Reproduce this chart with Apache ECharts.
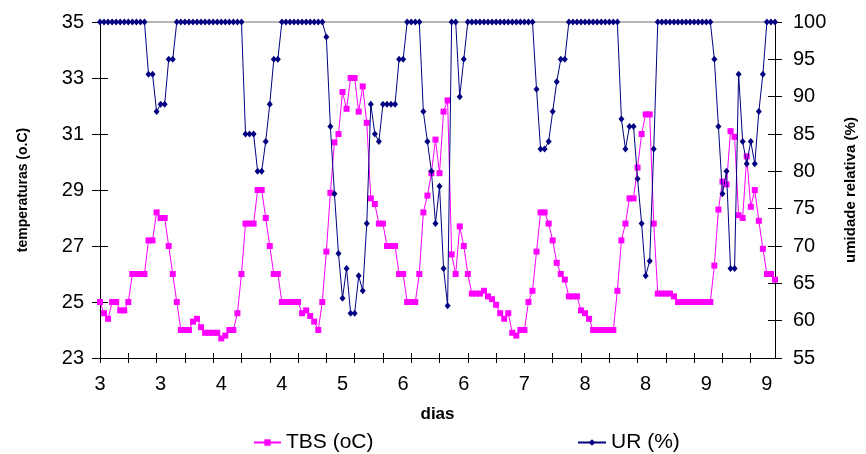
<!DOCTYPE html>
<html>
<head>
<meta charset="utf-8">
<script src="https://cdn.jsdelivr.net/npm/echarts@6/dist/echarts.min.js"></script>
<style>
  html, body { margin: 0; padding: 0; background: #fff; }
  #chart { width: 866px; height: 454px; }
</style>
</head>
<body>
<div id="chart"></div>
<script>
// Hourly readings, day 3 00h .. day 9 23h
const days = [3, 4, 5, 6, 7, 8, 9];
const hoursPerDay = 24;

// Temperatura de bulbo seco (oC)
const tbs = [
  25.0,24.6,24.4,25.0,25.0,24.7,24.7,25.0,26.0,26.0,
  26.0,26.0,27.2,27.2,28.2,28.0,28.0,27.0,26.0,25.0,
  24.0,24.0,24.0,24.3,24.4,24.1,23.9,23.9,23.9,23.9,
  23.7,23.8,24.0,24.0,24.6,26.0,27.8,27.8,27.8,29.0,
  29.0,28.0,27.0,26.0,26.0,25.0,25.0,25.0,25.0,25.0,
  24.6,24.7,24.5,24.3,24.0,25.0,26.8,28.9,30.7,31.0,
  32.5,31.9,33.0,33.0,31.8,32.7,31.4,28.7,28.5,27.8,
  27.8,27.0,27.0,27.0,26.0,26.0,25.0,25.0,25.0,26.0,
  28.2,28.8,29.6,30.8,29.6,31.8,32.2,26.7,26.0,27.7,
  27.0,26.0,25.3,25.3,25.3,25.4,25.2,25.1,24.9,24.6,
  24.4,24.6,23.9,23.8,24.0,24.0,25.0,25.4,26.8,28.2,
  28.2,27.8,27.2,26.4,26.0,25.8,25.2,25.2,25.2,24.7,
  24.6,24.4,24.0,24.0,24.0,24.0,24.0,24.0,25.4,27.2,
  27.8,28.7,28.7,29.8,31.0,31.7,31.7,27.8,25.3,25.3,
  25.3,25.3,25.2,25.0,25.0,25.0,25.0,25.0,25.0,25.0,
  25.0,25.0,26.3,28.3,29.3,29.2,31.1,30.9,28.1,28.0,
  30.2,28.4,29.0,27.9,26.9,26.0,26.0,25.8
];

// Umidade relativa (%)
const ur = [
  100,100,100,100,100,100,100,100,100,100,
  100,100,93,93,88,89,89,95,95,100,
  100,100,100,100,100,100,100,100,100,100,
  100,100,100,100,100,100,85,85,85,80,
  80,84,89,95,95,100,100,100,100,100,
  100,100,100,100,100,100,98,86,77,69,
  63,67,61,61,66,64,73,89,85,84,
  89,89,89,89,95,95,100,100,100,100,
  88,84,80,73,78,67,62,100,100,90,
  95,100,100,100,100,100,100,100,100,100,
  100,100,100,100,100,100,100,100,91,83,
  83,84,88,92,95,95,100,100,100,100,
  100,100,100,100,100,100,100,100,100,87,
  83,86,86,79,73,66,68,83,100,100,
  100,100,100,100,100,100,100,100,100,100,
  100,100,95,86,77,80,67,67,93,84,
  81,84,81,88,93,100,100,100
];

const seriesNames = ['TBS (oC)', 'UR (%)'];
const leftTitle = 'temperaturas (o.C)';
const rightTitle = 'umidade relativa (%)';
const xTitle = 'dias';

const categories = [];
days.forEach(d => { for (let h = 0; h < hoursPerDay; h++) categories.push(d + ' ' + h + 'h'); });

const FONT = 'Liberation Sans, Arial, sans-serif';
const chart = echarts.init(document.getElementById('chart'), null, { renderer: 'canvas' });

const baseX = {
  type: 'category',
  data: categories,
  boundaryGap: false,
  position: 'bottom'
};

chart.setOption({
  animation: false,
  backgroundColor: '#ffffff',
  textStyle: { fontFamily: FONT },
  grid: { left: 100, right: 82, top: 22, bottom: 96, containLabel: false },
  legend: [
    {
      data: [seriesNames[0]], left: 248, top: 427,
      itemWidth: 27, itemHeight: 8, itemGap: 0,
      textStyle: { fontSize: 21, color: '#000', fontFamily: FONT }
    },
    {
      data: [seriesNames[1]], left: 572, top: 427,
      itemWidth: 28, itemHeight: 8, itemGap: 0,
      textStyle: { fontSize: 21, color: '#000', fontFamily: FONT }
    }
  ],
  xAxis: [
    Object.assign({}, baseX, {
      name: xTitle, nameLocation: 'middle', nameGap: 48,
      nameTextStyle: { fontSize: 17, fontWeight: 'bold', color: '#000', fontFamily: FONT },
      axisLine: { lineStyle: { color: '#000', width: 1 } },
      axisTick: { show: true, interval: 6, length: 5, lineStyle: { color: '#000' } },
      axisLabel: {
        interval: 14, margin: 16, fontSize: 20, color: '#000', fontFamily: FONT,
        formatter: v => v.split(' ')[0]
      },
      splitLine: { show: false }
    }),
    Object.assign({}, baseX, {
      position: 'top',
      axisLine: { lineStyle: { color: '#a0a0a0', width: 1.5 } },
      axisTick: { show: false }, axisLabel: { show: false }, splitLine: { show: false }
    }),
    Object.assign({}, baseX, {
      axisLine: { show: false },
      axisTick: { show: true, inside: true, interval: 6, length: 5, lineStyle: { color: '#000' } },
      axisLabel: { show: false }, splitLine: { show: false }
    })
  ],
  yAxis: [
    {
      type: 'value', position: 'left', min: 23, max: 35, interval: 2,
      name: leftTitle, nameLocation: 'middle', nameRotate: 90, nameGap: 70,
      nameTextStyle: { fontSize: 14, fontWeight: 'bold', color: '#000', fontFamily: FONT },
      axisLine: { show: true, lineStyle: { color: '#000' } },
      axisTick: { show: true, length: 8, lineStyle: { color: '#000' } },
      axisLabel: { fontSize: 20, color: '#000', margin: 16, fontFamily: FONT },
      splitLine: { show: false }
    },
    {
      type: 'value', position: 'right', min: 55, max: 100, interval: 5,
      name: rightTitle, nameLocation: 'middle', nameRotate: 90, nameGap: 68,
      nameTextStyle: { fontSize: 15, fontWeight: 'bold', color: '#000', fontFamily: FONT },
      axisLine: { show: true, lineStyle: { color: '#000' } },
      axisTick: { show: true, length: 7, lineStyle: { color: '#000' } },
      axisLabel: { fontSize: 20, color: '#000', margin: 18, fontFamily: FONT },
      splitLine: { show: false }
    },
    {
      type: 'value', position: 'left', min: 23, max: 35, interval: 2,
      axisLine: { show: false },
      axisTick: { show: true, inside: true, length: 8, lineStyle: { color: '#000' } },
      axisLabel: { show: false }, splitLine: { show: false }
    },
    {
      type: 'value', position: 'right', min: 55, max: 100, interval: 5,
      axisLine: { show: false },
      axisTick: { show: true, inside: true, length: 7, lineStyle: { color: '#000' } },
      axisLabel: { show: false }, splitLine: { show: false }
    }
  ],
  series: [
    {
      name: seriesNames[0], type: 'line', xAxisIndex: 0, yAxisIndex: 0,
      data: tbs,
      symbol: 'rect', symbolSize: 6, showAllSymbol: true,
      itemStyle: { color: '#ff00ff' },
      lineStyle: { color: '#ff00ff', width: 1 },
      z: 2
    },
    {
      name: seriesNames[1], type: 'line', xAxisIndex: 0, yAxisIndex: 1,
      data: ur,
      symbol: 'diamond', symbolSize: [6, 7], showAllSymbol: true,
      itemStyle: { color: '#000080' },
      lineStyle: { color: '#000080', width: 1 },
      z: 3
    }
  ]
});
</script>
</body>
</html>
